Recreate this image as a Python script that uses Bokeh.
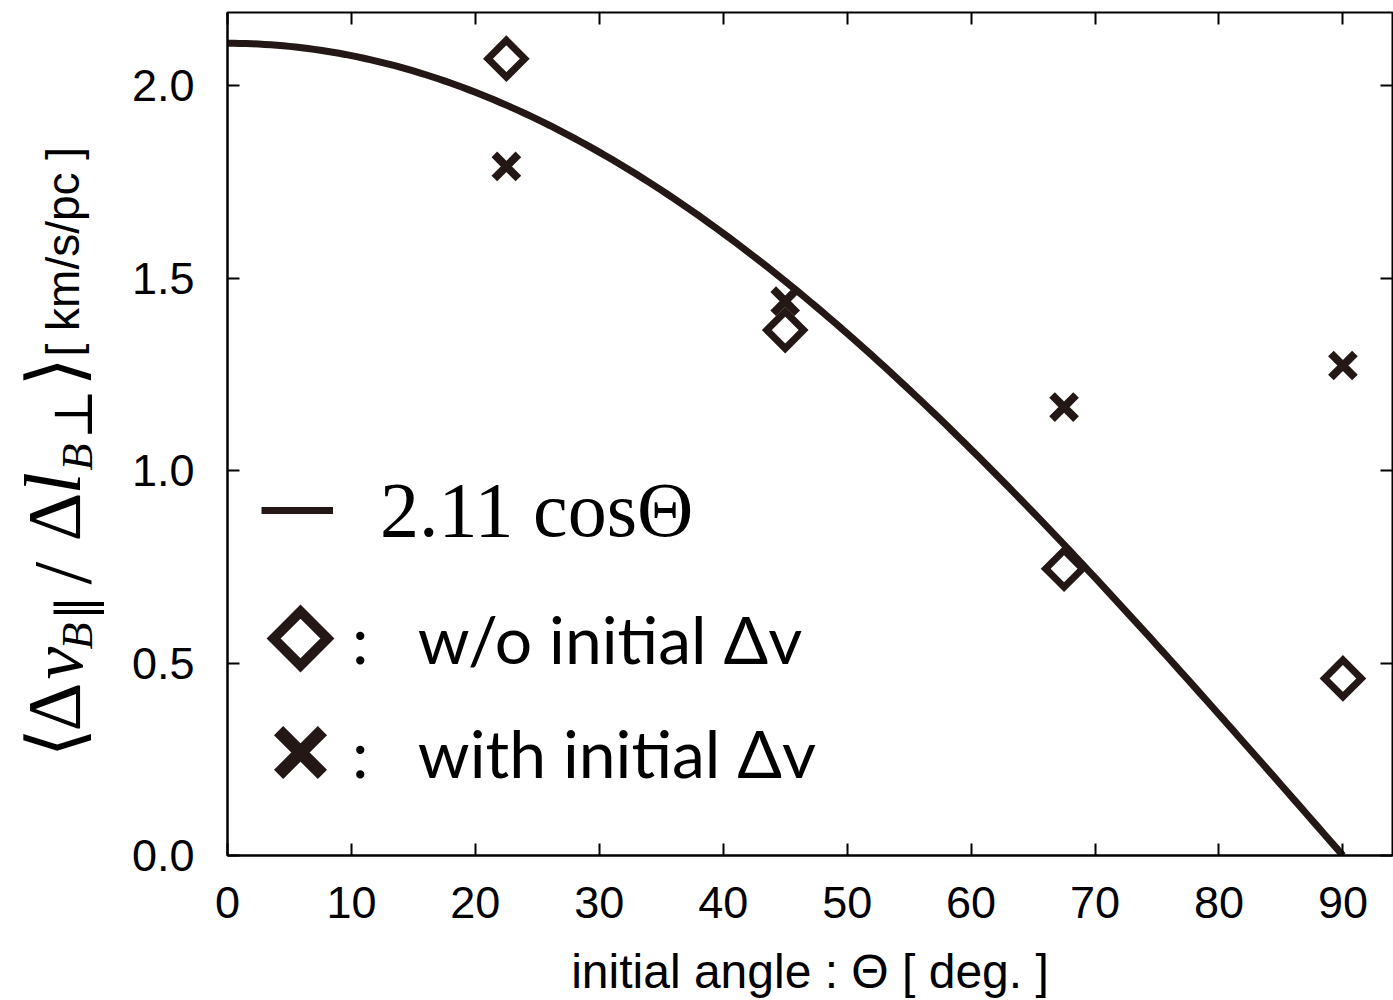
import numpy as np
from bokeh.plotting import figure
from bokeh.layouts import row
from bokeh.models import (Range1d, LinearAxis, Label, Legend, LegendItem,
                          FixedTicker, PrintfTickFormatter)
from bokeh.embed import file_html
from bokeh.resources import INLINE

# ---------------- data ----------------
theta_deg = [22.5, 45.0, 67.5, 90.0]
dv_without_initial = [2.07, 1.365, 0.745, 0.46]
dv_with_initial = [1.79, 1.44, 1.165, 1.273]
fit_amplitude = 2.11
x_tick_values = [0, 10, 20, 30, 40, 50, 60, 70, 80, 90]
y_tick_values = [0.0, 0.5, 1.0, 1.5, 2.0]

fit_theta = np.linspace(0.0, 90.0, 181)
fit_curve = fit_amplitude * np.cos(np.deg2rad(fit_theta))

INK = "#231815"

# ---------------- layout ----------------
W, H = 1393, 1000
TW = 110                      # width of the strip holding the y title
FL, FR, FT, FB = 227, 1392, 12, 855   # frame edges in page pixels
X0, X1 = 0.0, 94.0
Y0, Y1 = 0.0, 2.19


def dx(px):
    return X0 + (px - FL) * (X1 - X0) / (FR - FL)


def dy(py):
    return Y0 + (FB - py) * (Y1 - Y0) / (FB - FT)


p = figure(width=W - TW, height=H, output_backend="svg", toolbar_location=None,
           x_range=Range1d(X0, X1), y_range=Range1d(Y0, Y1),
           min_border_left=FL - TW, min_border_right=W - FR,
           min_border_top=FT, min_border_bottom=H - FB,
           x_axis_label="initial angle : Θ [ deg. ]")
p.background_fill_color = "white"
p.border_fill_color = "white"
p.grid.visible = False
p.outline_line_color = "black"
p.outline_line_width = 2

for ax in (p.xaxis[0], p.yaxis[0]):
    ax.axis_line_color = "black"
    ax.axis_line_width = 2
    ax.major_tick_in = 12
    ax.major_tick_out = 0
    ax.major_tick_line_width = 2
    ax.major_tick_line_color = "black"
    ax.minor_tick_line_color = None
    ax.major_label_text_font = "Liberation Sans"
    ax.major_label_text_font_size = "45px"
    ax.major_label_text_color = "black"

p.xaxis.ticker = FixedTicker(ticks=x_tick_values)
p.yaxis.ticker = FixedTicker(ticks=y_tick_values)
p.yaxis.formatter = PrintfTickFormatter(format="%.1f")
p.xaxis.major_label_standoff = 31
p.yaxis.major_label_standoff = 33
p.xaxis.axis_label_text_font = "Liberation Sans"
p.xaxis.axis_label_text_font_size = "48px"
p.xaxis.axis_label_text_font_style = "normal"
p.xaxis.axis_label_text_color = "black"
p.xaxis.axis_label_standoff = 24
p.yaxis.axis_label = None

# tick-only axes on top and right
top_ax = LinearAxis(ticker=FixedTicker(ticks=x_tick_values))
right_ax = LinearAxis(ticker=FixedTicker(ticks=y_tick_values))
for ax in (top_ax, right_ax):
    ax.axis_line_color = None
    ax.major_tick_in = 12
    ax.major_tick_out = 0
    ax.major_tick_line_width = 2
    ax.major_tick_line_color = "black"
    ax.minor_tick_line_color = None
    ax.major_label_text_font_size = "1px"
    ax.major_label_text_color = None
    ax.major_label_standoff = 0
p.add_layout(top_ax, "above")
p.add_layout(right_ax, "right")

# ---------------- glyphs ----------------
curve = p.line(fit_theta, fit_curve, line_color=INK, line_width=7)
wo = p.scatter(theta_deg, dv_without_initial, marker="square", size=26,
               angle=np.pi / 4, fill_color=None, line_color=INK,
               line_width=7, line_join="miter")
wi = p.scatter(theta_deg, dv_with_initial, marker="x", size=34,
               line_color=INK, line_width=8)

# legend key symbols (drawn large, as in the reference key)
key_wo = p.scatter([dx(300)], [dy(638)], marker="square", size=38,
                   angle=np.pi / 4, fill_color=None, line_color=INK,
                   line_width=10, line_join="miter")
key_wi = p.scatter([dx(300)], [dy(752)], marker="x", size=62,
                   line_color=INK, line_width=13)
blank_wo = p.scatter([], [], marker="square", fill_alpha=0, line_alpha=0)
blank_wi = p.scatter([], [], marker="x", fill_alpha=0, line_alpha=0)


# ---------------- legends ----------------
def make_legend(item, loc, gw, gh, standoff, font, size):
    lg = Legend(items=[item], location=loc, orientation="vertical",
                glyph_width=gw, glyph_height=gh, label_standoff=standoff,
                padding=0, spacing=0, margin=0,
                border_line_color=None, background_fill_alpha=0,
                label_text_font=font, label_text_font_size=size,
                label_text_color="black")
    p.add_layout(lg)
    return lg


make_legend(LegendItem(label="2.11 cosΘ", renderers=[curve]), (34, 300),
            72, 90, 47, "Liberation Serif", "78px")
make_legend(LegendItem(label=":\u00a0\u00a0\u00a0w/o initial Δv", renderers=[blank_wo]),
            (29, 173), 88, 88, 8, "Lato", "66px")
make_legend(LegendItem(label=":\u00a0\u00a0\u00a0with initial Δv", renderers=[blank_wi]),
            (23, 53), 100, 100, 2, "Lato", "66px")

# ---------------- y-axis title strip ----------------
# its frame is aligned with the main frame (rows align frames), so map
# page pixels FT..FB directly
t = figure(width=TW, height=H, output_backend="svg", toolbar_location=None,
           x_range=Range1d(0, TW), y_range=Range1d(H - FB, H - FT),
           x_axis_location=None, y_axis_location=None, min_border=0)
t.grid.visible = False
t.outline_line_color = None
t.background_fill_color = "white"
t.border_fill_color = "white"

ytitle_pieces = [
    # text, start y px (bottom), baseline x px, font, size px, style
    ("⟨", 757, 80, "DejaVu Serif", 76, "normal"),
    ("Δ", 731, 80, "Liberation Serif", 76, "normal"),
    ("v", 679, 82, "Liberation Serif", 74, "italic"),
    ("B", 649, 92, "Liberation Serif", 44, "italic"),
    ("‖", 620, 92, "DejaVu Serif", 50, "normal"),
    ("/", 584, 90, "Liberation Serif", 82, "normal"),
    ("Δ", 541, 80, "Liberation Serif", 76, "normal"),
    ("l", 494, 80, "Liberation Serif", 80, "italic"),
    ("B", 470, 92, "Liberation Serif", 44, "italic"),
    ("⊥", 439, 92, "DejaVu Serif", 54, "normal"),
    ("⟩", 386, 80, "DejaVu Serif", 76, "normal"),
    ("[ km/s/pc ]", 356, 78, "Liberation Sans", 46, "normal"),
]
for txt, sy, bx, font, size, style in ytitle_pieces:
    t.add_layout(Label(x=bx - 0.347 * size, y=H - sy, text=txt, angle=np.pi / 2,
                       text_align="left", text_baseline="middle",
                       text_font=font, text_font_size=f"{size}px",
                       text_font_style=style, text_color="black"))

layout = row(t, p, spacing=0)
open("out.html", "w").write(file_html(layout, INLINE))
